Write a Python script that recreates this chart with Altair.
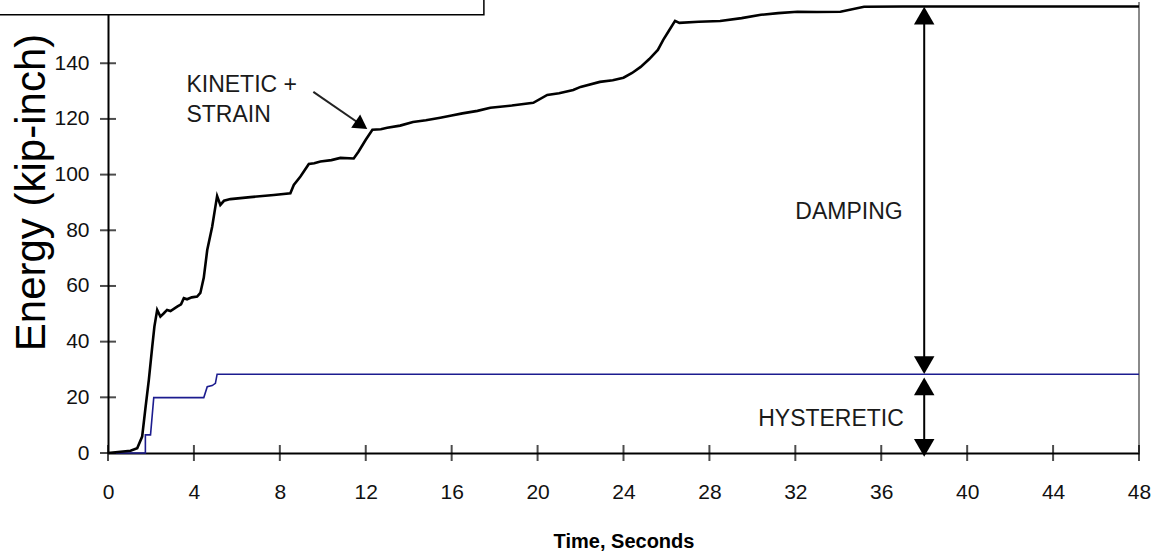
import altair as alt
import pandas as pd

# ---- data ----
# black curve: kinetic + strain (+ damping) energy
blk_t = [0, 1.05, 1.36, 1.59, 1.75, 1.9, 2.06, 2.16, 2.29, 2.44, 2.6, 2.75, 2.91, 3.22, 3.4,
         3.53, 3.68, 3.9, 4.15, 4.3, 4.46, 4.62, 4.85, 5.0, 5.08, 5.23, 5.4, 5.7, 6.63, 7.72,
         8.49, 8.65, 8.96, 9.35, 9.6, 9.89, 10.4, 10.82, 11.44, 11.66, 12.0, 12.31, 12.7, 13.0,
         13.6, 14.2, 14.8, 15.47, 16.0, 16.5, 17.2, 17.8, 18.8, 19.8, 20.45, 21.0, 21.66, 22.0,
         22.9, 23.5, 24.0, 24.4, 24.8, 25.2, 25.6, 25.85, 26.1, 26.4, 26.6, 27.5, 28.5, 29.5,
         30.4, 31.2, 32.1, 33.0, 34.1, 35.2, 37.0, 40.0, 44.0, 48.0]
blk_e = [0, 0.8, 1.7, 5.9, 16.6, 26.2, 38.2, 45.4, 51.4, 49.0, 50.2, 51.4, 51.0, 52.6, 53.4,
         55.6, 55.2, 55.9, 56.2, 57.5, 63.0, 72.9, 81.3, 88.5, 92.3, 89.1, 90.6, 91.2, 91.9, 92.7,
         93.3, 96.3, 99.3, 103.8, 104.1, 104.7, 105.2, 106.0, 105.8, 108.2, 112.5, 116.1, 116.3, 116.8,
         117.6, 118.9, 119.5, 120.4, 121.2, 122.0, 122.9, 124.0, 124.8, 125.8, 128.6, 129.2, 130.4, 131.5,
         133.3, 133.9, 134.8, 136.5, 138.7, 141.5, 144.8, 148.4, 151.5, 155.2, 154.5, 154.9, 155.2, 156.2,
         157.4, 158.0, 158.5, 158.4, 158.5, 160.3, 160.4, 160.4, 160.4, 160.4]

# blue curve: hysteretic energy
blu_t = [0, 1.74, 1.74, 1.98, 2.13, 4.46, 4.62, 4.85, 5.0, 5.08, 48.0]
blu_e = [0, 0, 6.5, 6.5, 19.9, 19.9, 23.8, 24.2, 25.0, 28.3, 28.3]

x_ticks = list(range(0, 49, 4))
y_ticks = list(range(0, 141, 20))

# annotations
ann_text = ["KINETIC +", "STRAIN", "DAMPING", "HYSTERETIC"]
ann_t = [3.65, 3.65, 32.0, 30.27]
ann_e = [132.2, 121.5, 86.6, 12.2]

# pointer arrow (KINETIC + STRAIN)
ptr_t = [9.56, 11.8]
ptr_e = [129.7, 117.8]

# double-headed vertical arrows at t = 38
arr_t = 38
arr_lo = [31.6, 1.8]
arr_hi = [157.1, 23.9]
head_e = [157.1, 31.6, 23.9, 1.8]
head_shape = ["triangle-up", "triangle-down", "triangle-up", "triangle-down"]

# cropped legend box at the top-left
box_t = [-6, 17.5]
box_e = [157.4, 175]

FONT = "Liberation Sans"
X_MAX, Y_MAX = 48, 162

xs = alt.Scale(domain=[0, X_MAX], nice=False, zero=False)
ys = alt.Scale(domain=[0, Y_MAX], nice=False, zero=False)

blk = pd.DataFrame({"t": blk_t, "E": blk_e})
blu = pd.DataFrame({"t": blu_t, "E": blu_e})

x_axis = alt.Axis(values=x_ticks, format="d", title="Time, Seconds", grid=False,
                  ticks=False, tickSize=0, labelPadding=28, labelFont=FONT, labelFontSize=21,
                  labelColor="#111", labelFlush=False, labelOverlap=False,
                  domainColor="black", domainWidth=2,
                  titleFont=FONT, titleFontSize=20, titleFontWeight="bold", titleColor="black",
                  titleY=94, titleBaseline="alphabetic")
y_axis = alt.Axis(values=y_ticks, title="Energy (kip-inch)", grid=False,
                  ticks=False, tickSize=0, labelPadding=19, labelFont=FONT, labelFontSize=21,
                  labelColor="#111", labelOverlap=False,
                  domainColor="black", domainWidth=2,
                  titleFont=FONT, titleFontSize=42, titleFontWeight="normal", titleColor="black",
                  titleAngle=270, titleX=-64, titleY=190, titleAlign="center",
                  titleBaseline="alphabetic")


def X(f="t:Q"):
    return alt.X(f, scale=xs, axis=x_axis)


def Y(f="E:Q"):
    return alt.Y(f, scale=ys, axis=y_axis)


border = alt.Chart(pd.DataFrame({"t": [X_MAX], "E": [0], "E2": [Y_MAX]})).mark_rule(
    color="#8a8a8a", strokeWidth=2).encode(x=X(), y=Y(), y2="E2:Q")

blue_line = alt.Chart(blu).transform_window(index="row_number()").mark_line(
    color="#1c1c8f", strokeWidth=1.6).encode(x=X(), y=Y(), order="index:Q")

black_line = alt.Chart(blk).mark_line(color="black", strokeWidth=2.6).encode(x=X(), y=Y())

yt = alt.Chart(pd.DataFrame({"t": [0] * len(y_ticks), "E": y_ticks})).mark_tick(
    orient="horizontal", size=16, thickness=2, color="black", clip=False).encode(x=X(), y=Y())
xt = alt.Chart(pd.DataFrame({"t": x_ticks, "E": [0] * len(x_ticks)})).mark_tick(
    orient="vertical", size=16, thickness=2, color="black", clip=False).encode(x=X(), y=Y())

texts = alt.Chart(pd.DataFrame({"t": ann_t, "E": ann_e, "txt": ann_text})).mark_text(
    align="left", baseline="middle", font=FONT, fontSize=23, color="#1a1a1a").encode(
    x=X(), y=Y(), text="txt:N")

ptr = alt.Chart(pd.DataFrame({"t": [ptr_t[0]], "E": [ptr_e[0]], "t2": [ptr_t[1]], "E2": [ptr_e[1]]})).mark_rule(
    color="#222", strokeWidth=2).encode(x=X(), y=Y(), x2="t2:Q", y2="E2:Q")
ptr_head = alt.Chart(pd.DataFrame({"t": [ptr_t[1]], "E": [ptr_e[1]]})).mark_point(
    shape="triangle-up", filled=True, size=260, angle=124, color="black", opacity=1).encode(
    x=X(), y=Y())

vrules = alt.Chart(pd.DataFrame({"t": [arr_t] * 2, "E": arr_lo, "E2": arr_hi})).mark_rule(
    color="black", strokeWidth=2).encode(x=X(), y=Y(), y2="E2:Q")
heads = alt.Chart(pd.DataFrame({"t": [arr_t] * 4, "E": head_e, "s": head_shape})).mark_point(
    filled=True, size=420, color="black", opacity=1, clip=False).encode(
    x=X(), y=Y(), shape=alt.Shape("s:N", scale=None))

box = alt.Chart(pd.DataFrame({"t": [box_t[0]], "t2": [box_t[1]], "E": [box_e[0]], "E2": [box_e[1]]})).mark_rect(
    fill="white", stroke="black", strokeWidth=1.5, clip=False).encode(
    x=X(), x2="t2:Q", y=Y(), y2="E2:Q")

chart = alt.layer(border, blue_line, black_line, yt, xt, texts, ptr, ptr_head, vrules, heads, box).properties(
    width=1031, height=451,
    autosize=alt.AutoSizeParams(type="none"),
    padding={"left": 108, "top": 2, "right": 14, "bottom": 104},
    background="white",
).configure_view(stroke=None)

chart.save("out.html", embed_options={"renderer": "svg", "actions": False})
